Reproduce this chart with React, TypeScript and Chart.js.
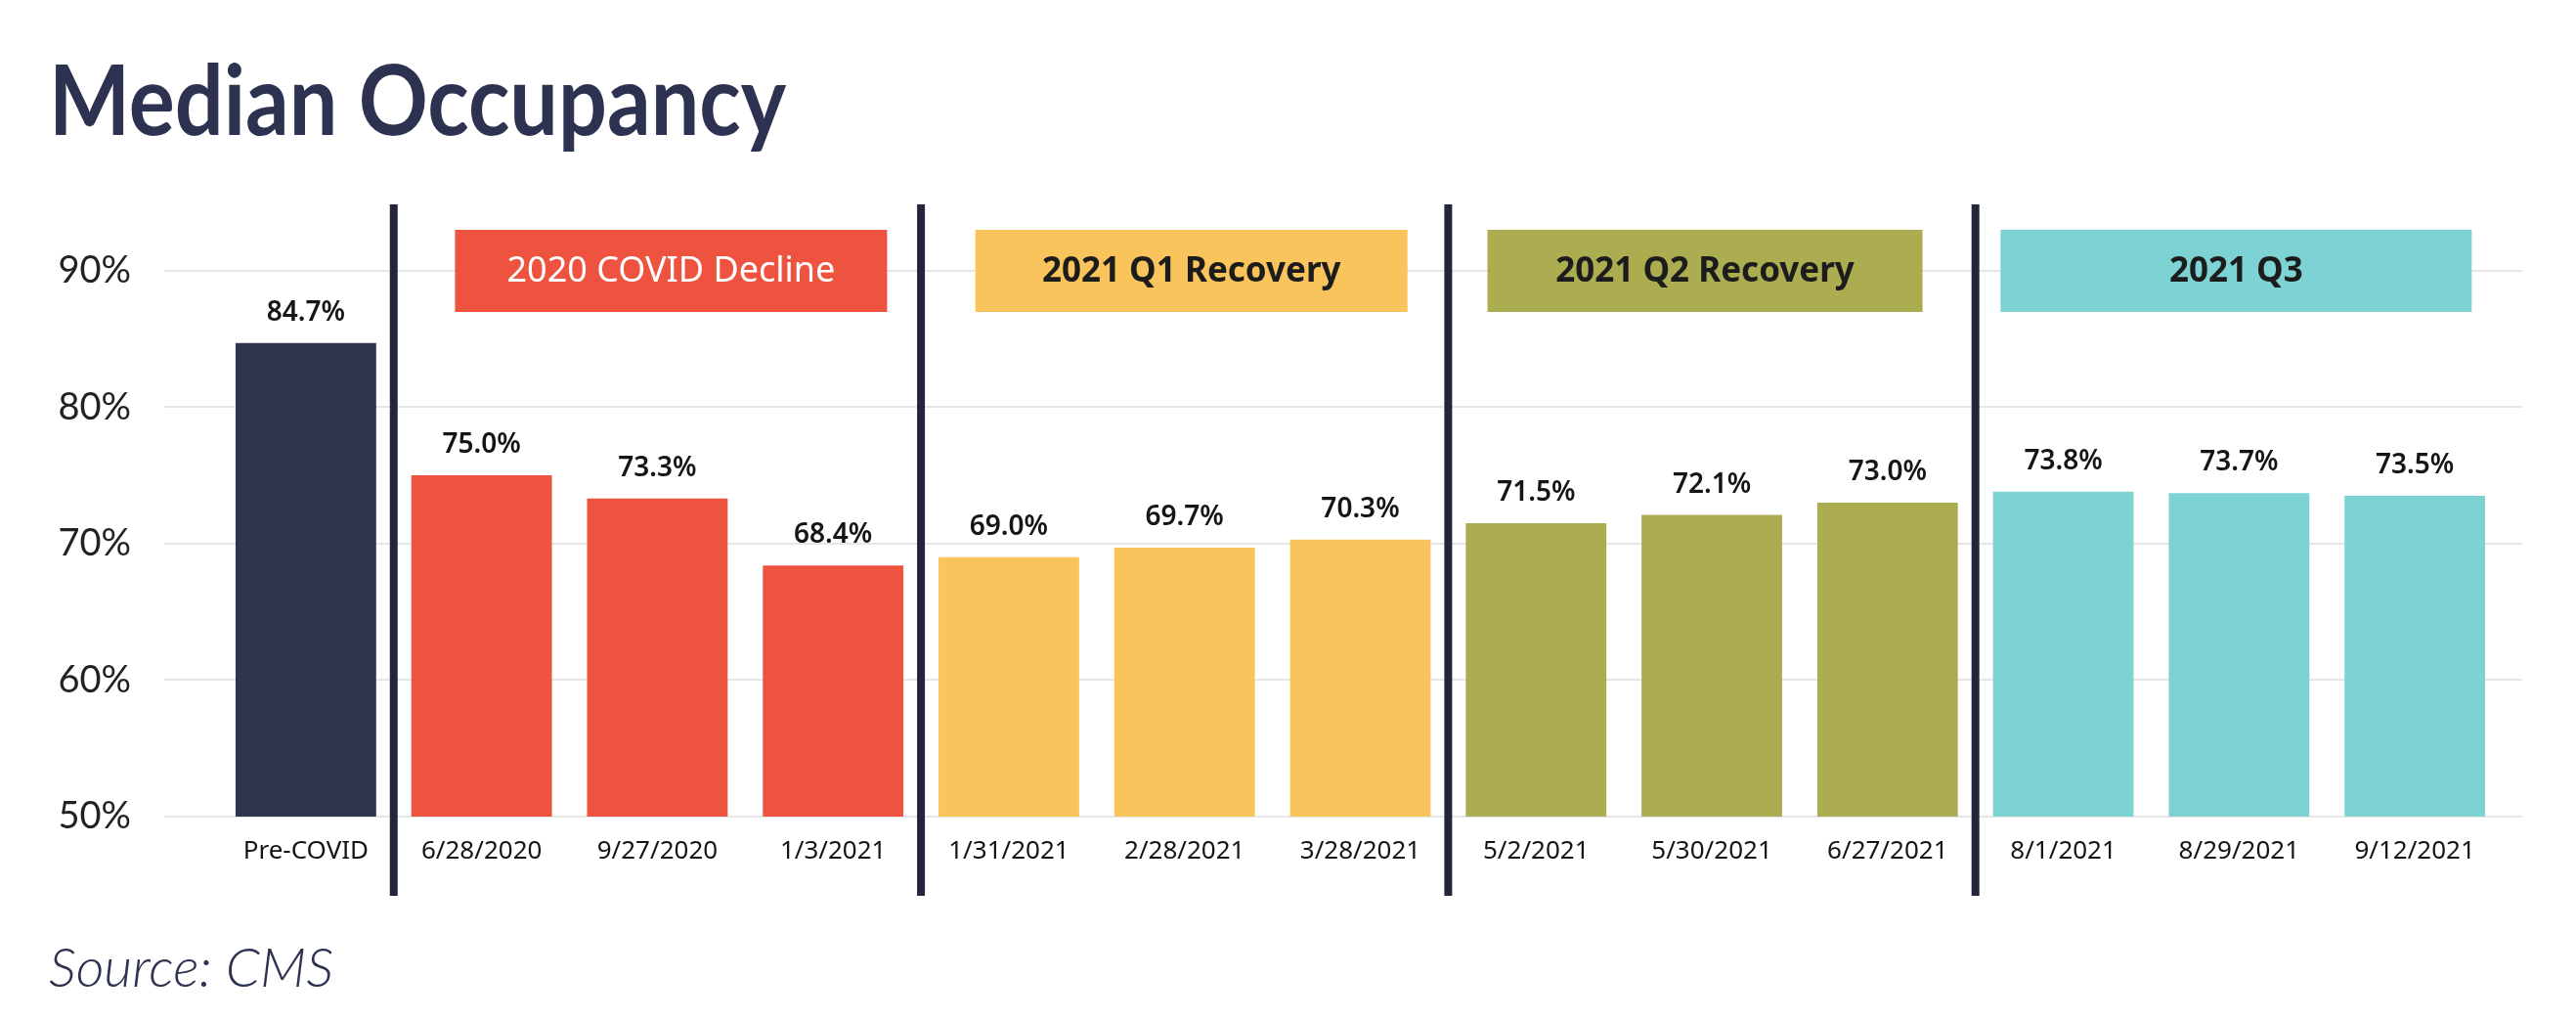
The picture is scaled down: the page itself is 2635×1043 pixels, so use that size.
import React, { useEffect, useRef } from "react";
import { Chart, registerables } from "chart.js";

Chart.register(...registerables);

// ---- data ----
const categories = [
  "Pre-COVID",
  "6/28/2020",
  "9/27/2020",
  "1/3/2021",
  "1/31/2021",
  "2/28/2021",
  "3/28/2021",
  "5/2/2021",
  "5/30/2021",
  "6/27/2021",
  "8/1/2021",
  "8/29/2021",
  "9/12/2021",
];
const occupancy = [84.7, 75.0, 73.3, 68.4, 69.0, 69.7, 70.3, 71.5, 72.1, 73.0, 73.8, 73.7, 73.5];
const yTicks = [50, 60, 70, 80, 90];
const groupLabels = ["2020 COVID Decline", "2021 Q1 Recovery", "2021 Q2 Recovery", "2021 Q3"];
const groupFirst = [1, 4, 7, 10];
const groupLast = [3, 6, 9, 12];

// ---- styles ----
const NAVY = "#30344d";
const RED = "#ee5340";
const YELLOW = "#f9c45b";
const OLIVE = "#abad50";
const TEAL = "#7dd3d3";
const barColors = [NAVY, RED, RED, RED, YELLOW, YELLOW, YELLOW, OLIVE, OLIVE, OLIVE, TEAL, TEAL, TEAL];
const groupFill = [RED, YELLOW, OLIVE, TEAL];
const groupTextColor = ["#ffffff", "#1c1c1c", "#1c1c1c", "#1c1c1c"];
const groupTextFont = ['400 36px "Noto Sans"', '700 35px "Noto Sans"', '700 35px "Noto Sans"', '700 35px "Noto Sans"'];
const groupBoxWidth = [442, 442, 445, 482];
const groupBoxShift = [14, 7, -7, -3];

const decorPlugin = {
  id: "decor",
  beforeDatasetsDraw(chart: any) {
    const { ctx, chartArea, scales } = chart;
    const y = scales.y;
    ctx.save();
    ctx.strokeStyle = "#e6e6e6";
    ctx.lineWidth = 2;
    yTicks.forEach((v) => {
      const py = Math.round(y.getPixelForValue(v));
      ctx.beginPath();
      ctx.moveTo(chartArea.left - 55, py);
      ctx.lineTo(chartArea.right + 20, py);
      ctx.stroke();
    });
    ctx.restore();
  },
  afterDatasetsDraw(chart: any) {
    const { ctx, chartArea, scales } = chart;
    const x = scales.x;
    const half = (x.getPixelForValue(1) - x.getPixelForValue(0)) / 2;
    ctx.save();
    // group separators
    ctx.strokeStyle = "#23263a";
    ctx.lineWidth = 8;
    groupFirst.forEach((i) => {
      const px = x.getPixelForValue(i) - half;
      ctx.beginPath();
      ctx.moveTo(px, chartArea.top + 2);
      ctx.lineTo(px, chartArea.bottom + 81);
      ctx.stroke();
    });
    // group boxes
    groupLabels.forEach((lab, g) => {
      const cx = (x.getPixelForValue(groupFirst[g]) + x.getPixelForValue(groupLast[g])) / 2 + groupBoxShift[g];
      const w = groupBoxWidth[g];
      const top = chartArea.top + 28;
      const h = 84;
      ctx.fillStyle = groupFill[g];
      ctx.fillRect(cx - w / 2, top, w, h);
      ctx.fillStyle = groupTextColor[g];
      ctx.font = groupTextFont[g];
      ctx.textAlign = "center";
      ctx.textBaseline = "middle";
      ctx.fillText(lab, cx, top + h / 2 + 1);
    });
    // value labels
    const meta = chart.getDatasetMeta(0);
    ctx.fillStyle = "#151515";
    ctx.font = `600 28px "Noto Sans"`;
    ctx.textAlign = "center";
    ctx.textBaseline = "middle";
    meta.data.forEach((bar: any, i: number) => {
      ctx.fillText(occupancy[i].toFixed(1) + "%", bar.x, bar.y - 31);
    });
    ctx.restore();
  },
};

export default function App() {
  const canvasRef = useRef<HTMLCanvasElement | null>(null);

  useEffect(() => {
    if (!canvasRef.current) return;
    const chart = new Chart(canvasRef.current, {
      type: "bar",
      data: {
        labels: categories,
        datasets: [
          {
            data: occupancy,
            backgroundColor: barColors,
            borderWidth: 0,
            categoryPercentage: 1,
            barPercentage: 0.8,
          },
        ],
      },
      options: {
        responsive: false,
        animation: false,
        devicePixelRatio: 1,
        layout: { padding: { left: 0, right: 75, top: 207, bottom: 0 } },
        plugins: { legend: { display: false }, tooltip: { enabled: false } },
        scales: {
          x: {
            grid: { display: false, drawTicks: false },
            border: { display: false },
            ticks: {
              color: "#141414",
              font: { family: "Noto Sans", size: 26 },
              padding: 20,
              maxRotation: 0,
              autoSkip: false,
            },
            afterFit: (s: any) => {
              s.height = 208;
            },
          },
          y: {
            min: 50,
            max: 95,
            afterBuildTicks: (s: any) => {
              s.ticks = yTicks.map((v) => ({ value: v }));
            },
            grid: { display: false, drawTicks: false },
            border: { display: false },
            ticks: {
              padding: 89,
              color: "#222222",
              font: { family: "Lato", size: 38 },
              callback: (v: any) => `${v}%`,
            },
            afterFit: (s: any) => {
              s.width = 223;
            },
          },
        },
      },
      plugins: [decorPlugin],
    });
    return () => chart.destroy();
  }, []);

  return (
    <div style={{ position: "absolute", left: 0, top: 0, width: 2635, height: 1043, background: "#fff" }}>
      <div
        style={{
          position: "absolute",
          left: 50,
          top: 49,
          fontFamily: "Lato",
          fontWeight: 700,
          fontSize: 100,
          lineHeight: 1,
          color: "#2d3250",
          whiteSpace: "nowrap",
          transform: "scaleX(0.88)",
          transformOrigin: "left top",
        }}
      >
        Median Occupancy
      </div>
      <canvas
        ref={canvasRef}
        width={2635}
        height={1043}
        style={{ position: "absolute", left: 0, top: 0, width: 2635, height: 1043 }}
      />
      <div
        style={{
          position: "absolute",
          left: 50,
          top: 960,
          fontFamily: "Lato",
          fontWeight: 300,
          fontStyle: "italic",
          fontSize: 56,
          lineHeight: 1,
          color: "#2d3250",
          whiteSpace: "nowrap",
        }}
      >
        Source: CMS
      </div>
    </div>
  );
}
